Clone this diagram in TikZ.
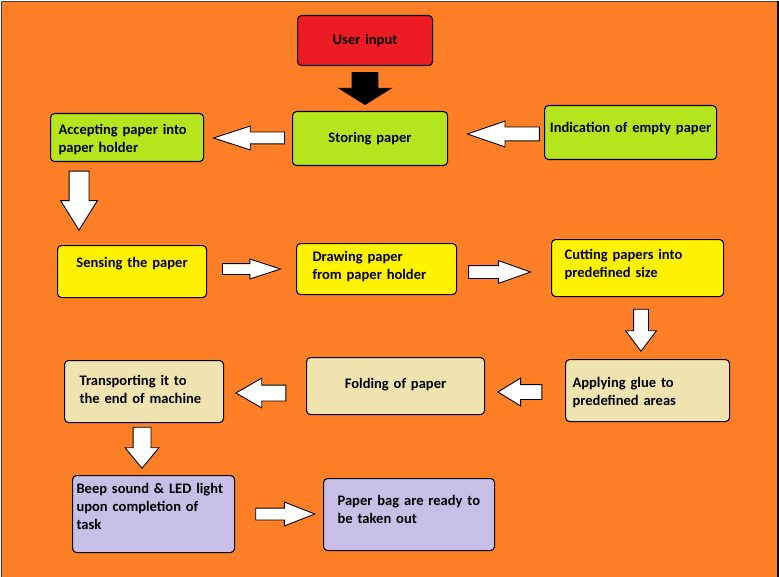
\documentclass[tikz,border=0pt]{standalone}
\usepackage{fontspec}
\setmainfont{Carlito}
\usetikzlibrary{shapes.arrows}

\definecolor{bgOrange}{RGB}{255,127,39}
\definecolor{userRed}{RGB}{237,28,36}
\definecolor{limeFill}{RGB}{181,230,29}
\definecolor{yellowFill}{RGB}{255,242,0}
\definecolor{tanFill}{RGB}{239,228,176}
\definecolor{lilacFill}{RGB}{200,191,231}

\begin{document}
\begin{tikzpicture}[
      x=1bp, y=-1bp,
      font=\fontsize{14.6}{18.1}\selectfont\bfseries,
      box/.style      = {rectangle, draw, line width=1.1bp, rounded corners=4bp,
        anchor=north west, inner ysep=0pt, text height=10.5bp},
      leftbox/.style  = {box, align=left},
      midbox/.style   = {box, align=center, inner xsep=2bp},
      fatarrow/.style = {single arrow, draw, fill=white, line width=0.9bp,
        anchor=tip, inner sep=0pt, minimum width=0pt},
      downarrow/.style = {fatarrow, shape border rotate=270},
      leftarrow/.style = {fatarrow, shape border rotate=180}
    ]

    % ---------------- background ----------------
    \useasboundingbox (0,0) rectangle (779,577);
    \fill[bgOrange] (1.5,1.5) rectangle (779,577);
    \draw[black!75, line width=1bp] (1.5,577) -- (1.5,1.5) -- (778,1.5);
    \draw[black, line width=1.6bp] (778,1.5) -- (778,577);

    % ---------------- first row ----------------
    \node[midbox, fill=userRed, minimum width=135bp, minimum height=50bp,
      text width=131bp, text depth=3.5bp] (user) at (297,15) {User input};
    \node[midbox, fill=limeFill, minimum width=155bp, minimum height=54bp,
      text width=151bp, text depth=3.5bp] (store) at (292,111) {Storing paper};
    \node[leftbox, fill=limeFill, minimum width=153bp, minimum height=48bp,
      inner xsep=8bp, text width=137bp, text depth=17.5bp] (accept) at (50,113)
    {Accepting paper into\\paper holder};
    \node[midbox, fill=limeFill, minimum width=172bp, minimum height=54bp,
      text width=168bp, text depth=11.5bp] (empty) at (544,105)
    {Indication of empty paper};

    % ---------------- second row ----------------
    \node[midbox, fill=yellowFill, minimum width=149bp, minimum height=52bp,
      text width=145bp, text depth=19.5bp] (sense) at (57,245) {Sensing the paper};
    \node[leftbox, fill=yellowFill, minimum width=160bp, minimum height=51bp,
      inner xsep=16bp, text width=128bp, text depth=26.5bp] (draw) at (296,243)
    {Drawing paper\\from paper holder};
    \node[leftbox, fill=yellowFill, minimum width=172bp, minimum height=57bp,
      inner xsep=13bp, text width=146bp, text depth=28.5bp] (cut) at (551,239)
    {Cutting papers into\\predefined size};

    % ---------------- third row ----------------
    \node[leftbox, fill=tanFill, minimum width=164bp, minimum height=62bp,
      inner xsep=7bp, text width=150bp, text depth=17.5bp] (glue) at (565,359)
    {Applying glue to\\predefined areas};
    \node[midbox, fill=tanFill, minimum width=178bp, minimum height=57bp,
      text width=174bp, text depth=6.5bp] (fold) at (306,357) {Folding of paper};
    \node[leftbox, fill=tanFill, minimum width=159bp, minimum height=62bp,
      inner xsep=15bp, text width=129bp, text depth=23.5bp] (transport) at (64,360)
    {Transporting it to\\the end of machine};

    % ---------------- last row ----------------
    \node[leftbox, fill=lilacFill, minimum width=162bp, minimum height=77bp,
      inner xsep=4bp, text width=154bp, text depth=52.5bp] (beep) at (72,475)
    {Beep sound \& LED light\\upon completion of\\task};
    \node[leftbox, fill=lilacFill, minimum width=171bp, minimum height=72bp,
      inner xsep=14bp, text width=143bp, text depth=29.5bp] (ready) at (323,478)
    {Paper bag are ready to\\be taken out};

    % ---------------- block arrows ----------------
    \node[downarrow, fill=black, minimum height=32bp, inner xsep=12.5bp,
      single arrow head extend=13bp, single arrow tip angle=116]
    (userToStore) at (365,105) {};
    \node[leftarrow, minimum height=71bp, inner ysep=5.5bp,
      single arrow head extend=6bp, single arrow tip angle=36]
    (storeToAccept) at (212,138) {};
    \node[leftarrow, minimum height=72bp, inner ysep=6.5bp,
      single arrow head extend=6bp, single arrow tip angle=38]
    (emptyToStore) at (466,134) {};
    \node[downarrow, minimum height=59bp, inner xsep=9.5bp,
      single arrow head extend=8.5bp, single arrow tip angle=64]
    (acceptToSense) at (79,231) {};
    \node[fatarrow, minimum height=58bp, inner ysep=5bp,
      single arrow head extend=4.5bp, single arrow tip angle=36]
    (senseToDraw) at (282,269) {};
    \node[fatarrow, minimum height=62bp, inner ysep=6bp,
      single arrow head extend=5bp, single arrow tip angle=39]
    (drawToCut) at (532,272) {};
    \node[downarrow, minimum height=42bp, inner xsep=7bp,
      single arrow head extend=8bp, single arrow tip angle=74]
    (cutToGlue) at (641,352) {};
    \node[leftarrow, minimum height=44bp, inner ysep=7bp,
      single arrow head extend=6.5bp, single arrow tip angle=63]
    (glueToFold) at (497,392) {};
    \node[leftarrow, minimum height=50bp, inner ysep=7.5bp,
      single arrow head extend=7bp, single arrow tip angle=60]
    (foldToTransport) at (235,393) {};
    \node[downarrow, minimum height=41bp, inner xsep=8.5bp,
      single arrow head extend=8bp, single arrow tip angle=79]
    (transportToBeep) at (142,469) {};
    \node[fatarrow, minimum height=59bp, inner ysep=5.5bp,
      single arrow head extend=6bp, single arrow tip angle=43]
    (beepToReady) at (316,514) {};

  \end{tikzpicture}
\end{document}
